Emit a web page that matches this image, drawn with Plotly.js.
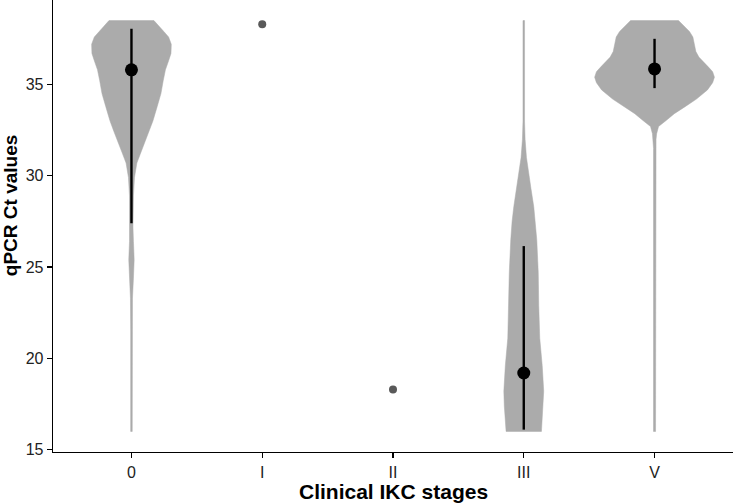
<!DOCTYPE html>
<html>
<head>
<meta charset="utf-8">
<script src="https://cdn.plot.ly/plotly-3.0.1.min.js"></script>
<style>
  html, body { margin: 0; padding: 0; background: #fff; }
  #violin { width: 733px; height: 503px; }
</style>
</head>
<body>
<div id="violin"></div>
<script>
// stages on the x axis
var stages = ["0", "I", "II", "III", "V"];

// violin outlines: Ct level and relative density (1 = widest)
var ct0Levels = [16.0, 21.5, 23.3, 24.4, 25.4, 26.4, 27.2, 28.9, 29.9, 30.7, 31.3, 31.8, 32.4, 33.0, 33.8, 34.5, 35.2, 35.8, 36.3, 36.7, 37.2, 37.6, 37.9, 38.2, 38.5];
var ct0Density = [0.013, 0.013, 0.017, 0.033, 0.045, 0.033, 0.025, 0.033, 0.05, 0.09, 0.16, 0.225, 0.29, 0.358, 0.43, 0.492, 0.53, 0.567, 0.62, 0.66, 0.665, 0.62, 0.54, 0.46, 0.375];

var ctIIILevels = [16.0, 16.7, 17.4, 18.2, 19.6, 21.1, 22.9, 24.7, 26.5, 27.5, 28.3, 29.3, 30.2, 31.0, 32.0, 33.0, 38.5];
var ctIIIDensity = [0.295, 0.305, 0.325, 0.333, 0.308, 0.267, 0.25, 0.242, 0.217, 0.195, 0.167, 0.12, 0.083, 0.045, 0.022, 0.013, 0.013];

var ctVLevels = [16.0, 31.5, 32.0, 32.3, 32.7, 33.0, 33.4, 33.8, 34.2, 34.7, 35.1, 35.4, 35.7, 35.95, 36.2, 36.5, 36.8, 37.2, 37.6, 37.9, 38.2, 38.5];
var ctVDensity = [0.017, 0.017, 0.025, 0.035, 0.067, 0.183, 0.33, 0.517, 0.7, 0.883, 0.97, 1.0, 0.97, 0.9, 0.82, 0.74, 0.69, 0.67, 0.64, 0.583, 0.5, 0.4];

// summary (point + range) per stage
var summaryStages = ["0", "III", "V"];
var summaryCt = [35.8, 19.2, 35.85];
var summaryLow = [27.4, 16.1, 34.8];
var summaryHigh = [38.05, 26.15, 37.5];

// stages with a single observation
var singleStages = ["I", "II"];
var singleCt = [38.3, 18.3];

var violinHalf = 0.458;
var violinColor = "#ababab";

function violin_trace(stage, levels, density) {
	var c = stages.indexOf(stage);
	var xs = [];
	var ys = [];
	for (var i = 0; i < levels.length; i++) {
		xs.push(c + density[i] * violinHalf);
		ys.push(levels[i]);
	}
	for (var j = levels.length - 1; j >= 0; j--) {
		xs.push(c - density[j] * violinHalf);
		ys.push(levels[j]);
	}
	xs.push(xs[0]);
	ys.push(ys[0]);
	return {
		type: "scatter",
		mode: "lines",
		x: xs,
		y: ys,
		fill: "toself",
		fillcolor: violinColor,
		line: {
			color: violinColor,
			width: 0.5
		},
		hoverinfo: "skip",
		showlegend: false
	};
}

var data = [
	violin_trace("0", ct0Levels, ct0Density),
	violin_trace("III", ctIIILevels, ctIIIDensity),
	violin_trace("V", ctVLevels, ctVDensity)
];

var errPlus = [];
var errMinus = [];
var summaryX = [];
for (var k = 0; k < summaryStages.length; k++) {
	summaryX.push(stages.indexOf(summaryStages[k]));
	errPlus.push(summaryHigh[k] - summaryCt[k]);
	errMinus.push(summaryCt[k] - summaryLow[k]);
}

data.push({
	type: "scatter",
	mode: "markers",
	x: summaryX,
	y: summaryCt,
	marker: { color: "#000000", size: 13 },
	error_y: {
		type: "data",
		array: errPlus,
		arrayminus: errMinus,
		color: "#000000",
		thickness: 2.4,
		width: 0
	},
	showlegend: false
});

var singleX = [];
for (var m = 0; m < singleStages.length; m++) {
	singleX.push(stages.indexOf(singleStages[m]));
}

data.push({
	type: "scatter",
	mode: "markers",
	x: singleX,
	y: singleCt,
	marker: { color: "#595959", size: 8 },
	showlegend: false
});

var layout = {
	width: 733,
	height: 503,
	paper_bgcolor: "#ffffff",
	plot_bgcolor: "#ffffff",
	font: { family: "Liberation Sans, Arial, sans-serif", color: "#000000" },
	margin: { l: 53, r: 0, t: 0, b: 51, pad: 0 },
	showlegend: false,
	xaxis: {
		range: [-0.6, 4.6],
		tickvals: [0, 1, 2, 3, 4],
		ticktext: stages,
		ticks: "outside",
		ticklen: 5,
		tickwidth: 1.2,
		tickcolor: "#000000",
		tickfont: { size: 16, color: "#222222" },
		showline: true,
		linecolor: "#000000",
		linewidth: 1.3,
		showgrid: false,
		zeroline: false
	},
	yaxis: {
		range: [14.875, 39.625],
		tickvals: [15, 20, 25, 30, 35],
		ticks: "outside",
		ticklen: 5,
		tickwidth: 1.2,
		tickcolor: "#000000",
		tickfont: { size: 16, color: "#222222" },
		showline: true,
		linecolor: "#000000",
		linewidth: 1.3,
		showgrid: false,
		zeroline: false
	},
	annotations: [
		{
			text: "<b>Clinical IKC stages</b>",
			xref: "paper",
			yref: "paper",
			x: 0.5,
			y: -0.087,
			xanchor: "center",
			yanchor: "middle",
			showarrow: false,
			font: { size: 21, color: "#000000" }
		},
		{
			text: "<b>qPCR Ct values</b>",
			xref: "paper",
			yref: "paper",
			x: -0.0625,
			y: 0.545,
			xanchor: "center",
			yanchor: "middle",
			textangle: -90,
			showarrow: false,
			font: { size: 19, color: "#000000" }
		}
	]
};

Plotly.newPlot("violin", data, layout, { staticPlot: true, displayModeBar: false });
</script>
</body>
</html>
